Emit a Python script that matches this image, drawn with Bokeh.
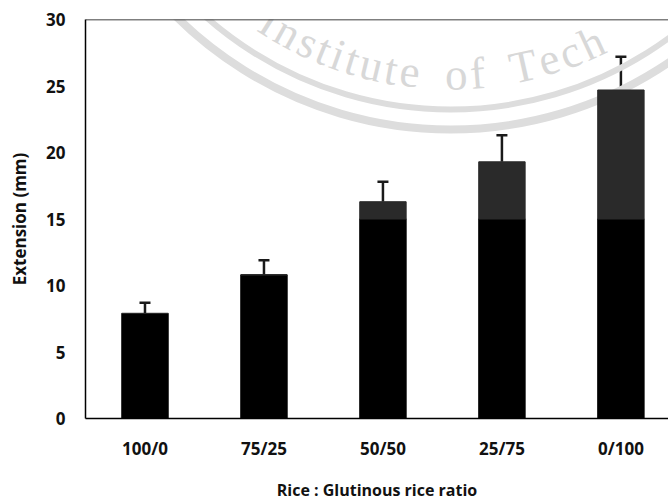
import numpy as np
from bokeh.plotting import figure
from bokeh.models import (ColumnDataSource, Range1d, FixedTicker, Whisker, TeeHead, Span)
from bokeh.core.properties import value
from bokeh.embed import file_html
from bokeh.resources import INLINE

categories = ["100/0", "75/25", "50/50", "25/75", "0/100"]
extension = [7.9, 10.8, 16.3, 19.3, 24.7]
error = [0.8, 1.1, 1.5, 2.0, 2.5]
y_ticks = [0, 5, 10, 15, 20, 25, 30]

FONT = "Open Sans"
W, H = 668, 503
LEFT, TOP, BOTTOM = 85, 19, 85
X_END, Y_END = 4.9, 30.0

x = np.arange(len(categories)) + 0.5
vals = np.array(extension)
errs = np.array(error)
split = 15.0

src = ColumnDataSource(dict(
    x=x,
    top=vals,
    low_top=np.minimum(vals, split),
    up_bottom=np.minimum(vals, split),
    upper=vals + errs,
))

p = figure(width=W, height=H, output_backend="svg", toolbar_location=None,
           x_range=Range1d(0, X_END), y_range=Range1d(0, Y_END),
           min_border_left=LEFT, min_border_right=0, min_border_top=TOP,
           min_border_bottom=BOTTOM)
p.background_fill_color = "white"
p.border_fill_color = "white"
p.outline_line_color = None
p.xgrid.visible = False
p.ygrid.visible = False

# ---- faint seal watermark (screen geometry converted to data units) ----
fw, fh = W - LEFT, H - TOP - BOTTOM
sx, sy = fw / X_END, fh / Y_END
def to_data(px, py):
    return (px - LEFT) / sx, (H - BOTTOM - py) / sy

cxp, cyp = 450.0, -260.0
cxd, cyd = to_data(cxp, cyp)
p.arc(x=cxd, y=cyd, radius=389, radius_units="screen",
      start_angle=np.radians(-150), end_angle=np.radians(-30),
      line_color="#dddddd", line_width=8)
p.arc(x=cxd, y=cyd, radius=369, radius_units="screen",
      start_angle=np.radians(-150), end_angle=np.radians(-30),
      line_color="#dddddd", line_width=6)

wm_text = "Institute of Tech"
adv = {"I": .333, "n": .5, "s": .389, "t": .278, "i": .278, "u": .5, "e": .444,
       " ": .45, "o": .5, "f": .333, "T": .611, "c": .444, "h": .5}
fs, track, rad = 45.0, 2.5, 334.0
theta = np.radians(-124.0)
cx_l, cy_l, ang_l, ch_l = [], [], [], []
for ch in wm_text:
    w = adv[ch] * fs
    tc = theta + (w / 2) / rad
    theta += (w + track) / rad
    if ch == " ":
        continue
    px = cxp + rad * np.cos(tc)
    py = cyp - rad * np.sin(tc)
    xd, yd = to_data(px, py)
    cx_l.append(xd); cy_l.append(yd); ang_l.append(tc + np.pi / 2); ch_l.append(ch)
p.text(x=cx_l, y=cy_l, text=ch_l, angle=ang_l, text_font=value("Liberation Serif"),
       text_font_size=f"{int(fs)}px", text_color="#d8d8d8", text_align="center",
       text_baseline="alphabetic")

# ---- bars ----
p.vbar(x="x", top="low_top", bottom=0, width=0.39, source=src,
       fill_color="#000000", line_color="#000000")
p.vbar(x="x", top="top", bottom="up_bottom", width=0.39, source=src,
       fill_color="#2a2a2a", line_color="#2a2a2a")

w = Whisker(source=src, base="x", upper="upper", lower="top",
            line_color="#1a1a1a", line_width=2.5,
            upper_head=TeeHead(size=11, line_color="#1a1a1a", line_width=2.5),
            lower_head=None)
p.add_layout(w)

p.add_layout(Span(location=Y_END, dimension="width", line_color="black", line_width=1.5))

p.xaxis.ticker = FixedTicker(ticks=list(x))
p.xaxis.major_label_overrides = {float(xx): c for xx, c in zip(x, categories)}
p.yaxis.ticker = FixedTicker(ticks=y_ticks)

for ax in (p.xaxis[0], p.yaxis[0]):
    ax.axis_line_color = "black"
    ax.axis_line_width = 1.5
    ax.major_tick_line_color = None
    ax.minor_tick_line_color = None
    ax.major_label_text_font = FONT
    ax.major_label_text_font_style = "bold"
    ax.major_label_text_font_size = "17px"
    ax.major_label_text_color = "#111111"
    ax.axis_label_text_font = FONT
    ax.axis_label_text_font_style = "bold"
    ax.axis_label_text_font_size = "16px"
    ax.axis_label_text_color = "#111111"

p.yaxis.axis_label_text_font_size = "17px"
p.xaxis.axis_label = "Rice : Glutinous rice ratio"
p.yaxis.axis_label = "Extension (mm)"
p.xaxis.major_label_standoff = 12
p.xaxis.axis_label_standoff = 16
p.yaxis.major_label_standoff = 14
p.yaxis.axis_label_standoff = 12

open("out.html", "w").write(file_html(p, INLINE))
